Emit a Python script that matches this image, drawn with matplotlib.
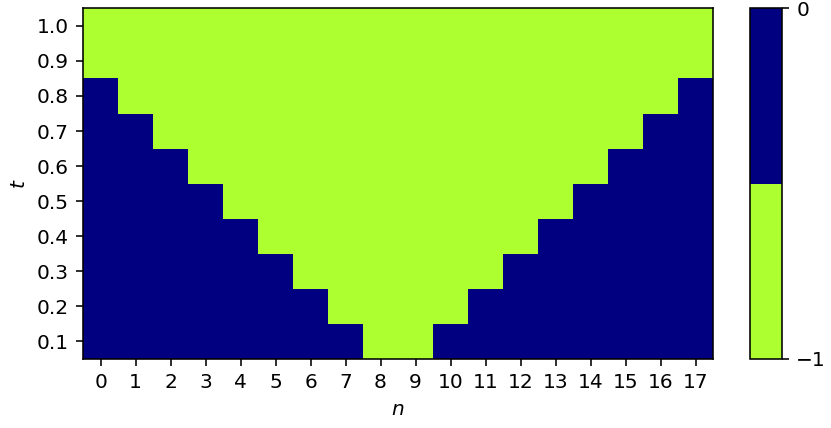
import numpy as np
import matplotlib.pyplot as plt
from matplotlib.colors import ListedColormap

n = list(range(18))
t = [0.1, 0.2, 0.3, 0.4, 0.5, 0.6, 0.7, 0.8, 0.9, 1.0]

# rows are t = 0.1 ... 1.0, columns n = 0 ... 17
grid = [
    [0, 0, 0, 0, 0, 0, 0, 0, -1, -1, 0, 0, 0, 0, 0, 0, 0, 0],
    [0, 0, 0, 0, 0, 0, 0, -1, -1, -1, -1, 0, 0, 0, 0, 0, 0, 0],
    [0, 0, 0, 0, 0, 0, -1, -1, -1, -1, -1, -1, 0, 0, 0, 0, 0, 0],
    [0, 0, 0, 0, 0, -1, -1, -1, -1, -1, -1, -1, -1, 0, 0, 0, 0, 0],
    [0, 0, 0, 0, -1, -1, -1, -1, -1, -1, -1, -1, -1, -1, 0, 0, 0, 0],
    [0, 0, 0, -1, -1, -1, -1, -1, -1, -1, -1, -1, -1, -1, -1, 0, 0, 0],
    [0, 0, -1, -1, -1, -1, -1, -1, -1, -1, -1, -1, -1, -1, -1, -1, 0, 0],
    [0, -1, -1, -1, -1, -1, -1, -1, -1, -1, -1, -1, -1, -1, -1, -1, -1, 0],
    [-1, -1, -1, -1, -1, -1, -1, -1, -1, -1, -1, -1, -1, -1, -1, -1, -1, -1],
    [-1, -1, -1, -1, -1, -1, -1, -1, -1, -1, -1, -1, -1, -1, -1, -1, -1, -1],
]

cmap = ListedColormap(["greenyellow", "navy"])

fs = 14.5
fig = plt.figure(figsize=(8.31, 4.28), dpi=100)
ax = fig.add_axes([0.1, 0.1615, 0.758, 0.819])
cax = fig.add_axes([0.9025, 0.1615, 0.0385, 0.819])

im = ax.pcolormesh(n, t, np.array(grid), cmap=cmap, vmin=-1, vmax=0, shading="nearest")
ax.set_xticks(n)
ax.set_yticks(t)
ax.set_xlabel("$n$", fontsize=fs, labelpad=5.8)
ax.set_ylabel("$t$", fontsize=fs, labelpad=5.8)
ax.tick_params(labelsize=fs, length=5.1, width=1.15, pad=5.1)
for s in ax.spines.values():
    s.set_linewidth(1.15)

cb = fig.colorbar(im, cax=cax, ticks=[-1, 0])
cb.ax.tick_params(labelsize=fs, length=5.1, width=1.15, pad=5.1)
cb.outline.set_linewidth(1.15)

fig.savefig("out.png", dpi=100)
